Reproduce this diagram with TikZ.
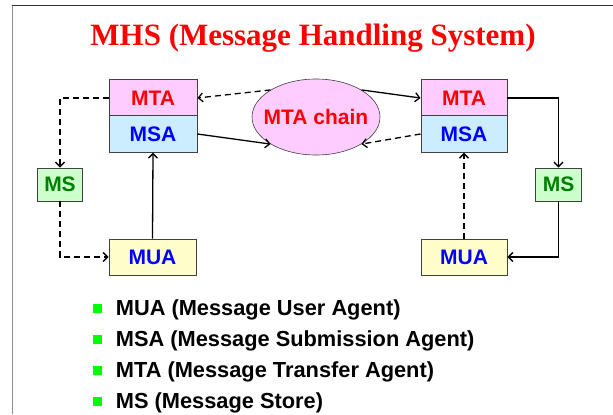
\documentclass[tikz,border=0pt]{standalone}
\usepackage{fontspec}
\setmainfont{Liberation Sans}
\newfontfamily\titlefont{Liberation Serif}
\usetikzlibrary{arrows.meta,shapes.geometric}
\definecolor{mtafill}{HTML}{FFCCFF}
\definecolor{msafill}{HTML}{CCECFF}
\definecolor{msfill}{HTML}{CCFFCC}
\definecolor{muafill}{HTML}{FFFFCC}
\definecolor{txtgreen}{HTML}{008000}
\definecolor{bulletgreen}{HTML}{00FF00}
\definecolor{boxline}{HTML}{404040}
\tikzset{
  boxfont/.style={font=\fontsize{21bp}{24bp}\selectfont\bfseries},
  box/.style={draw=boxline, line width=0.9bp, inner sep=0pt, boxfont},
  mtabox/.style={box, fill=mtafill, text=red, minimum width=88bp, minimum height=36.5bp},
  msabox/.style={box, fill=msafill, text=blue, minimum width=88bp, minimum height=36.5bp},
  msbox/.style={box, fill=msfill, text=txtgreen, minimum width=45.5bp, minimum height=33bp},
  muabox/.style={box, fill=muafill, text=blue, minimum width=87bp, minimum height=36bp},
  chainnode/.style={ellipse, draw=boxline, line width=0.6bp, fill=mtafill, inner sep=0pt,
    minimum width=128bp, minimum height=76bp},
  conn/.style={line width=1.3bp, -{Straight Barb[length=4.5bp,width=9bp]}},
  dconn/.style={conn, dash pattern=on 6bp off 4bp},
  bulletsq/.style={fill=bulletgreen, inner sep=0pt, minimum size=9bp},
  bullettext/.style={anchor=base west, inner sep=0pt, font=\fontsize{21.8bp}{24bp}\selectfont\bfseries},
}
\begin{document}
\begin{tikzpicture}[x=1bp, y=-1bp]
\useasboundingbox (0,0) rectangle (613,414);
% frame
\draw[color=black!45, line width=1.4bp] (12.3,5.7) -- (12.3,414);
\draw[color=black!80, line width=1.1bp] (11.6,5.7) -- (613,5.7);
% title
\node[anchor=base, inner sep=0pt, text=red, font=\titlefont\fontsize{31bp}{36bp}\selectfont\bfseries]
  (title) at (313,45) {MHS (Message Handling System)};
% left stack
\node[mtabox] (lmta) at (153,98) {MTA};
\node[msabox] (lmsa) at (153,134) {MSA};
\node[msbox] (lms) at (60,184.5) {MS};
\node[muabox] (lmua) at (152.5,257) {MUA};
% chain
\node[chainnode, label={[text=red, boxfont, inner sep=0pt]center:MTA chain}] (chain) at (316,117) {};
% right stack
\node[mtabox, minimum width=86bp] (rmta) at (464,98) {MTA};
\node[msabox, minimum width=86bp] (rmsa) at (464,134) {MSA};
\node[msbox] (rms) at (558.5,184.5) {MS};
\node[muabox, minimum width=86bp] (rmua) at (464,257) {MUA};
% left connectors
\draw[dconn] (lmta.west) -| (lms.north);
\draw[dconn] (lms.south) |- (lmua.west);
\draw[conn] (lmua.north) -- (lmsa.south);
\draw[conn] (lmsa.east) -- (chain.south west);
\draw[dconn] (chain.north west) -- (lmta.east);
% right connectors
\draw[conn] (chain.north east) -- (rmta.west);
\draw[dconn] (rmsa.west) -- (chain.south east);
\draw[conn] (rmta.east) -| (rms.north);
\draw[conn] (rms.south) |- (rmua.east);
\draw[dconn] (rmua.north) -- (rmsa.south);
% bullets
\node[bulletsq] (b1) at (97.2,308.5) {};
\node[bullettext] (t1) at (115.7,315) {MUA (Message User Agent)};
\node[bulletsq] (b2) at (97.2,339.5) {};
\node[bullettext] (t2) at (115.7,346) {MSA (Message Submission Agent)};
\node[bulletsq] (b3) at (97.2,370.5) {};
\node[bullettext] (t3) at (115.7,377) {MTA (Message Transfer Agent)};
\node[bulletsq] (b4) at (97.2,401.5) {};
\node[bullettext] (t4) at (115.7,408) {MS (Message Store)};
\end{tikzpicture}
\end{document}
